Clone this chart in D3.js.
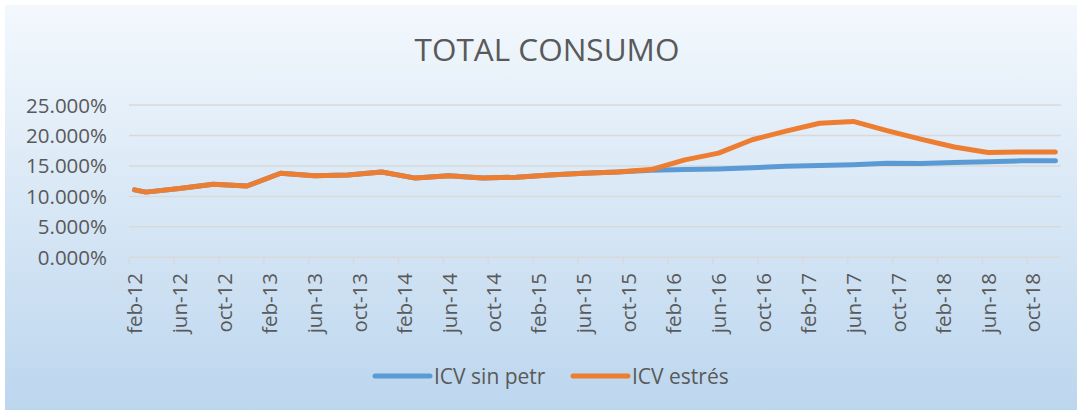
<!DOCTYPE html>
<html><head><meta charset="utf-8">
<script src="https://cdn.jsdelivr.net/npm/d3@7"></script>
<style>html,body{margin:0;padding:0;background:#fff;}svg{display:block;}</style>
</head><body>
<script>
// Data (quarterly points, first point feb-12); month index counted from feb-12
const dates = ["feb-12","mar-12","jun-12","sep-12","dec-12","mar-13","jun-13","sep-13","dec-13","mar-14","jun-14","sep-14","dec-14","mar-15","jun-15","sep-15","dec-15","mar-16","jun-16","sep-16","dec-16","mar-17","jun-17","sep-17","dec-17","mar-18","jun-18","sep-18","dec-18"];
const icvSinPetr = [11.07,10.7,11.3,12.0,11.7,13.8,13.4,13.5,14.0,13.0,13.4,13.0,13.15,13.5,13.8,14.0,14.3,14.4,14.5,14.7,14.96,15.07,15.2,15.45,15.4,15.56,15.7,15.84,15.84];
const icvEstres   = [11.07,10.7,11.3,12.0,11.7,13.8,13.4,13.5,14.0,13.0,13.4,13.0,13.15,13.5,13.8,14.0,14.4,16.0,17.1,19.3,20.7,22.0,22.3,20.8,19.4,18.1,17.2,17.3,17.27];
const tickLabels = ["feb-12","jun-12","oct-12","feb-13","jun-13","oct-13","feb-14","jun-14","oct-14","feb-15","jun-15","oct-15","feb-16","jun-16","oct-16","feb-17","jun-17","oct-17","feb-18","jun-18","oct-18"];
const yTicks = [0,5,10,15,20,25];
const seriesNames = ["ICV sin petr","ICV estrés"];
const colors = ["#5b9bd5","#ed7d31"];

const W = 1077, H = 413;
const months = ["jan","feb","mar","apr","may","jun","jul","aug","sep","oct","nov","dec"];
function monthIndex(lbl){ const [m,y]=lbl.split("-"); return (+y-12)*12 + months.indexOf(m) - 1; }
const nMonths = monthIndex("dec-18") + 1;

const svg = d3.select("body").append("svg").attr("width",W).attr("height",H);
const defs = svg.append("defs");
const grad = defs.append("linearGradient").attr("id","bg").attr("x1",0).attr("y1",0).attr("x2",0).attr("y2",1);
grad.append("stop").attr("offset","0%").attr("stop-color","#f3f8fd");
grad.append("stop").attr("offset","100%").attr("stop-color","#bcd6ee");
svg.append("rect").attr("x",5).attr("y",5).attr("width",W-5).attr("height",H-8).attr("fill","url(#bg)");

const font = "'Open Sans', sans-serif";
const txt = "#595959";

const x = d3.scaleLinear().domain([0,nMonths]).range([129,1061]);
const y = d3.scaleLinear().domain([0,25]).range([257.3,105]);

// gridlines
svg.append("g").selectAll("line").data(yTicks).join("line")
  .attr("x1",x(0)).attr("x2",x(nMonths)).attr("y1",d=>y(d)).attr("y2",d=>y(d))
  .attr("stroke","#d9d9d9").attr("stroke-width",1.5);

// x ticks
const tickIdx = tickLabels.map(monthIndex);
svg.append("g").selectAll("line").data(tickIdx).join("line")
  .attr("x1",d=>x(d)).attr("x2",d=>x(d)).attr("y1",y(0)).attr("y2",y(0)+7)
  .attr("stroke","#d9d9d9").attr("stroke-width",1.5);

// x labels
svg.append("g").selectAll("text").data(tickLabels).join("text")
  .attr("transform",d=>`translate(${x(monthIndex(d)+0.5)+7.5},273) rotate(-90)`)
  .attr("text-anchor","end").attr("font-family",font).attr("font-size",20.5).attr("fill",txt)
  .text(d=>d);

// y labels
svg.append("g").selectAll("text").data(yTicks).join("text")
  .attr("x",107).attr("y",d=>y(d)+7.5).attr("text-anchor","end")
  .attr("font-family",font).attr("font-size",20.5).attr("fill",txt)
  .text(d=>d3.format(".3f")(d)+"%");

// lines
const line = d3.line().x((d,i)=>x(monthIndex(dates[i])+0.5)).y(d=>y(d));
[icvSinPetr, icvEstres].forEach((s,k)=>{
  svg.append("path").attr("d",line(s)).attr("fill","none").attr("stroke",colors[k])
    .attr("stroke-width",5).attr("stroke-linejoin","round").attr("stroke-linecap","round");
});

// title
svg.append("text").attr("x",547).attr("y",61).attr("text-anchor","middle")
  .attr("font-family",font).attr("font-size",31.5).attr("fill",txt).text("TOTAL CONSUMO");

// legend
const legX = [375, 573];
seriesNames.forEach((n,k)=>{
  svg.append("line").attr("x1",legX[k]).attr("x2",legX[k]+55).attr("y1",376).attr("y2",376)
    .attr("stroke",colors[k]).attr("stroke-width",5).attr("stroke-linecap","round");
  svg.append("text").attr("x",legX[k]+59).attr("y",383.5).attr("font-family",font)
    .attr("font-size",21).attr("fill",txt).text(n);
});
</script>
</body></html>
